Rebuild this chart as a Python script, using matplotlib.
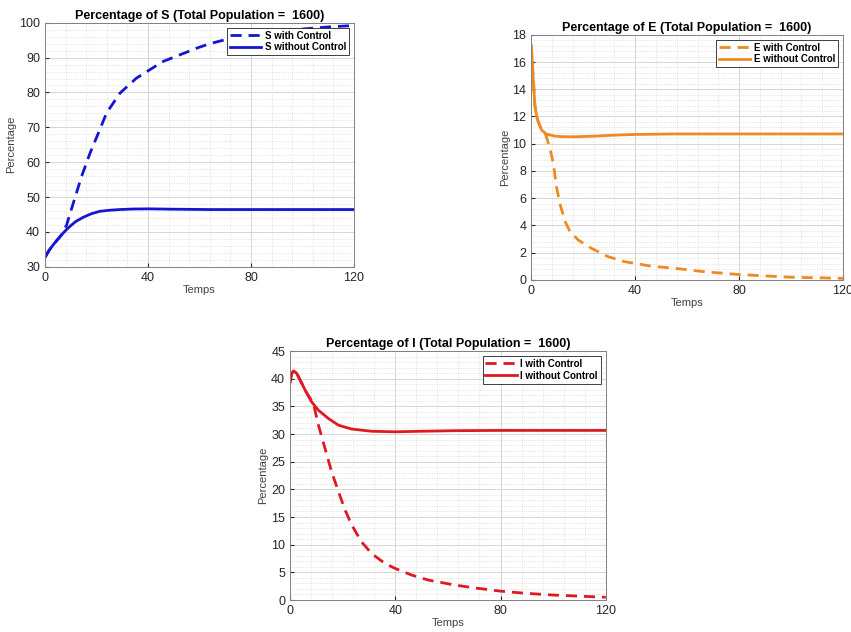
import matplotlib.pyplot as plt
from matplotlib.ticker import MultipleLocator, AutoMinorLocator

plt.rcParams['font.family'] = ['Liberation Sans', 'DejaVu Sans']

# values
t_s_no = [0, 1.5, 3.2, 5, 6.5, 8, 9.7, 12, 14.9, 18, 21.3, 25, 29.1, 34, 40, 50, 64, 80, 100, 120]
s_no = [32.7, 34.6, 36.3, 37.9, 39.2, 40.4, 41.6, 43.0, 44.2, 45.2, 45.9, 46.2, 46.4, 46.55, 46.6, 46.5, 46.4, 46.4, 46.4, 46.4]
t_s_ctl = [0, 1.5, 3.2, 5, 6.5, 8.4, 11, 14.2, 17.5, 20.7, 23.9, 29.1, 35.5, 40, 45.9, 52.4, 58.9, 64, 72, 80, 90, 100, 110, 120]
s_ctl = [32.7, 34.6, 36.3, 37.9, 39.2, 42.0, 48.3, 55.9, 62.6, 68.3, 74.1, 79.8, 84.1, 86.2, 88.9, 90.8, 92.7, 94.0, 95.5, 96.6, 97.5, 98.2, 98.8, 99.2]

t_e_no = [0, 0.4, 0.8, 1.4, 2, 2.7, 4, 5.9, 9.1, 12, 16.8, 24.5, 32, 39.9, 55, 70, 90, 120]
e_no = [17.2, 16.0, 14.6, 12.8, 12.1, 11.6, 11.0, 10.7, 10.56, 10.52, 10.51, 10.56, 10.63, 10.68, 10.72, 10.72, 10.72, 10.72]
t_e_ctl = [0, 0.4, 0.8, 1.4, 2, 2.7, 4, 5.5, 7.2, 8.5, 9.7, 11, 13, 14.9, 18.1, 23.2, 29.6, 36, 39.9, 46, 55, 67, 80, 100, 120]
e_ctl = [17.2, 16.0, 14.6, 12.8, 12.1, 11.6, 11.0, 10.7, 9.66, 8.55, 6.85, 5.6, 4.3, 3.55, 2.93, 2.32, 1.71, 1.34, 1.22, 1.02, 0.86, 0.6, 0.4, 0.2, 0.12]

t_i_no = [0, 0.6, 1.3, 2.5, 4, 6, 8.2, 10.8, 14.6, 18.4, 23.4, 31, 40, 50, 62.7, 80, 100, 120]
i_no = [39.3, 40.9, 41.4, 41.0, 39.6, 37.7, 35.8, 34.3, 32.8, 31.6, 30.9, 30.5, 30.4, 30.5, 30.6, 30.65, 30.65, 30.65]
t_i_ctl = [0, 0.6, 1.3, 2.5, 4, 6, 8.9, 10.8, 13.3, 15.8, 18.4, 20.9, 23.4, 27.2, 31, 36.1, 40, 46.3, 52.6, 62.7, 70, 80, 90, 100, 110, 120]
i_ctl = [39.3, 40.9, 41.4, 41.0, 39.6, 37.7, 35.5, 31.6, 27.4, 23.2, 19.6, 16.3, 13.6, 10.5, 8.4, 6.6, 5.7, 4.5, 3.6, 2.7, 2.2, 1.6, 1.2, 0.9, 0.7, 0.5]

fig = plt.figure(figsize=(8.51, 6.32), dpi=100)
ax1 = fig.add_axes([0.0529, 0.578, 0.363, 0.386])
ax2 = fig.add_axes([0.6243, 0.557, 0.3663, 0.388])
ax3 = fig.add_axes([0.3408, 0.0506, 0.371, 0.394])


def style(ax, title, ymin, ymax, ystep):
    ax.set_xlim(0, 120)
    ax.set_ylim(ymin, ymax)
    ax.xaxis.set_major_locator(MultipleLocator(40))
    ax.xaxis.set_minor_locator(AutoMinorLocator(5))
    ax.yaxis.set_major_locator(MultipleLocator(ystep))
    ax.yaxis.set_minor_locator(AutoMinorLocator(5))
    ax.grid(which='major', color='#d6d6d6', linewidth=0.7)
    ax.grid(which='minor', color='#d0d0d0', linewidth=0.5, linestyle=':')
    ax.set_axisbelow(True)
    ax.tick_params(which='both', direction='in', labelsize=9, colors='#262626', length=3)
    ax.tick_params(which='minor', length=0)
    for sp in ax.spines.values():
        sp.set_color('#808080')
        sp.set_linewidth(0.7)
    ax.set_title(title, fontsize=9, fontweight='bold', pad=3)
    ax.set_xlabel('Temps', fontsize=8, color='#404040', labelpad=1)
    ax.set_ylabel('Percentage', fontsize=8, color='#404040', labelpad=2)
    leg = ax.legend(loc='upper right', prop={'weight': 'bold', 'size': 7},
                    fancybox=False, edgecolor='#202020', framealpha=1,
                    handlelength=3.2, borderpad=0.3, labelspacing=0.2, handletextpad=0.4,
                    borderaxespad=0.5)
    leg.get_frame().set_linewidth(0.6)


blue = '#1414d2'
orange = '#ef8a22'
red = '#dd1a22'

ax1.plot(t_s_ctl, s_ctl, color=blue, linewidth=2, linestyle=(0, (4, 2.5)), label='S with Control')
ax1.plot(t_s_no, s_no, color=blue, linewidth=2, label='S without Control')
style(ax1, 'Percentage of S (Total Population =  1600)', 30, 100, 10)

ax2.plot(t_e_ctl, e_ctl, color=orange, linewidth=2, linestyle=(0, (4, 2.5)), label='E with Control')
ax2.plot(t_e_no, e_no, color=orange, linewidth=2, label='E without Control')
style(ax2, 'Percentage of E (Total Population =  1600)', 0, 18, 2)

ax3.plot(t_i_ctl, i_ctl, color=red, linewidth=2, linestyle=(0, (4, 2.5)), label='I with Control')
ax3.plot(t_i_no, i_no, color=red, linewidth=2, label='I without Control')
style(ax3, 'Percentage of I (Total Population =  1600)', 0, 45, 5)

plt.savefig('out.png', dpi=100)
